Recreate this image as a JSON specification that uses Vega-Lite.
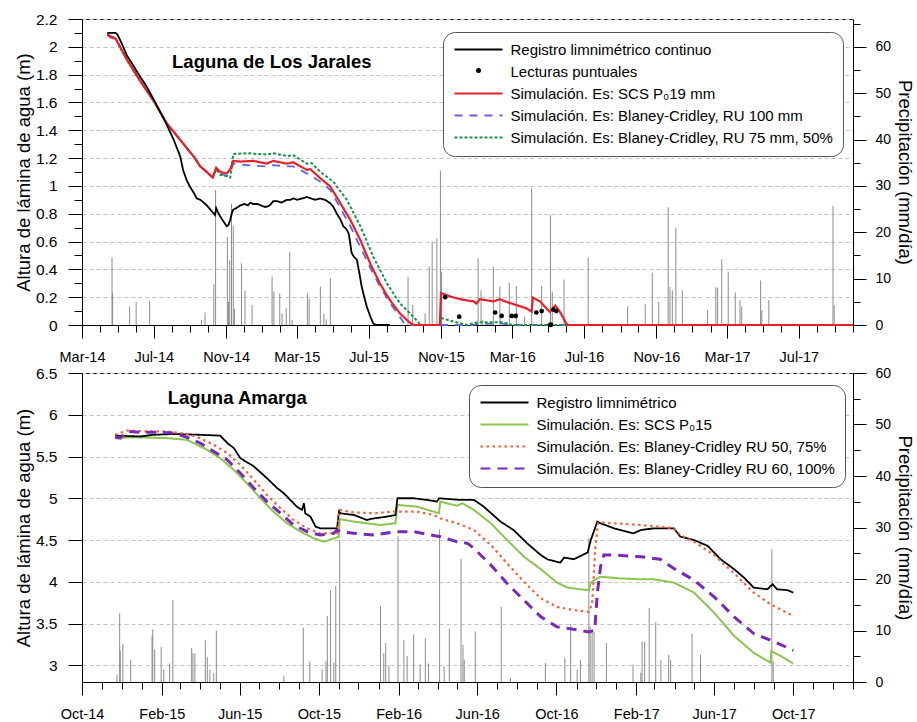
{
"$schema": "https://vega.github.io/schema/vega-lite/v6.json",
"padding": {"left": 13, "top": 11, "right": 0, "bottom": 5},
"config": {
  "font": "Liberation Sans",
  "view": {"stroke": "black", "strokeWidth": 1},
  "axis": {"domainColor": "black", "tickColor": "black", "labelColor": "black", "titleColor": "black", "labelFont": "Liberation Sans", "titleFont": "Liberation Sans", "titleFontWeight": "normal", "grid": false, "tickWidth": 1, "domainWidth": 1},
  "legend": {"labelFont": "Liberation Sans", "labelFontSize": 15, "labelColor": "black", "labelLimit": 600, "symbolType": "M-1,0H7", "symbolSize": 144, "symbolStrokeWidth": 2, "rowPadding": 6, "padding": 10, "strokeColor": "#555555", "fillColor": "white", "cornerRadius": 12, "labelOffset": 42.5}
},
"datasets": {
  "jar_reg": [
    {"d":"2014-04-13","v":2.10,"s":"Registro limnimétrico continuo"},
    {"d":"2014-04-27","v":2.10,"s":"Registro limnimétrico continuo"},
    {"d":"2014-04-30","v":2.09,"s":"Registro limnimétrico continuo"},
    {"d":"2014-05-08","v":2.02,"s":"Registro limnimétrico continuo"},
    {"d":"2014-05-16","v":1.94,"s":"Registro limnimétrico continuo"},
    {"d":"2014-05-25","v":1.88,"s":"Registro limnimétrico continuo"},
    {"d":"2014-06-07","v":1.79,"s":"Registro limnimétrico continuo"},
    {"d":"2014-06-18","v":1.72,"s":"Registro limnimétrico continuo"},
    {"d":"2014-07-01","v":1.62,"s":"Registro limnimétrico continuo"},
    {"d":"2014-07-12","v":1.53,"s":"Registro limnimétrico continuo"},
    {"d":"2014-07-23","v":1.44,"s":"Registro limnimétrico continuo"},
    {"d":"2014-08-04","v":1.33,"s":"Registro limnimétrico continuo"},
    {"d":"2014-08-15","v":1.21,"s":"Registro limnimétrico continuo"},
    {"d":"2014-08-20","v":1.11,"s":"Registro limnimétrico continuo"},
    {"d":"2014-08-26","v":1.04,"s":"Registro limnimétrico continuo"},
    {"d":"2014-09-01","v":0.99,"s":"Registro limnimétrico continuo"},
    {"d":"2014-09-07","v":0.95,"s":"Registro limnimétrico continuo"},
    {"d":"2014-09-12","v":0.91,"s":"Registro limnimétrico continuo"},
    {"d":"2014-09-18","v":0.90,"s":"Registro limnimétrico continuo"},
    {"d":"2014-09-24","v":0.88,"s":"Registro limnimétrico continuo"},
    {"d":"2014-09-29","v":0.86,"s":"Registro limnimétrico continuo"},
    {"d":"2014-10-05","v":0.83,"s":"Registro limnimétrico continuo"},
    {"d":"2014-10-11","v":0.80,"s":"Registro limnimétrico continuo"},
    {"d":"2014-10-13","v":0.79,"s":"Registro limnimétrico continuo"},
    {"d":"2014-10-15","v":0.84,"s":"Registro limnimétrico continuo"},
    {"d":"2014-10-18","v":0.81,"s":"Registro limnimétrico continuo"},
    {"d":"2014-10-22","v":0.78,"s":"Registro limnimétrico continuo"},
    {"d":"2014-10-28","v":0.74,"s":"Registro limnimétrico continuo"},
    {"d":"2014-11-02","v":0.71,"s":"Registro limnimétrico continuo"},
    {"d":"2014-11-05","v":0.72,"s":"Registro limnimétrico continuo"},
    {"d":"2014-11-08","v":0.76,"s":"Registro limnimétrico continuo"},
    {"d":"2014-11-11","v":0.81,"s":"Registro limnimétrico continuo"},
    {"d":"2014-11-13","v":0.83,"s":"Registro limnimétrico continuo"},
    {"d":"2014-11-18","v":0.84,"s":"Registro limnimétrico continuo"},
    {"d":"2014-11-25","v":0.86,"s":"Registro limnimétrico continuo"},
    {"d":"2014-12-02","v":0.87,"s":"Registro limnimétrico continuo"},
    {"d":"2014-12-08","v":0.86,"s":"Registro limnimétrico continuo"},
    {"d":"2014-12-12","v":0.88,"s":"Registro limnimétrico continuo"},
    {"d":"2014-12-17","v":0.87,"s":"Registro limnimétrico continuo"},
    {"d":"2014-12-24","v":0.87,"s":"Registro limnimétrico continuo"},
    {"d":"2014-12-30","v":0.86,"s":"Registro limnimétrico continuo"},
    {"d":"2015-01-05","v":0.85,"s":"Registro limnimétrico continuo"},
    {"d":"2015-01-09","v":0.85,"s":"Registro limnimétrico continuo"},
    {"d":"2015-01-14","v":0.86,"s":"Registro limnimétrico continuo"},
    {"d":"2015-01-20","v":0.89,"s":"Registro limnimétrico continuo"},
    {"d":"2015-01-27","v":0.89,"s":"Registro limnimétrico continuo"},
    {"d":"2015-02-03","v":0.88,"s":"Registro limnimétrico continuo"},
    {"d":"2015-02-12","v":0.90,"s":"Registro limnimétrico continuo"},
    {"d":"2015-02-18","v":0.90,"s":"Registro limnimétrico continuo"},
    {"d":"2015-02-23","v":0.91,"s":"Registro limnimétrico continuo"},
    {"d":"2015-03-02","v":0.90,"s":"Registro limnimétrico continuo"},
    {"d":"2015-03-10","v":0.91,"s":"Registro limnimétrico continuo"},
    {"d":"2015-03-18","v":0.92,"s":"Registro limnimétrico continuo"},
    {"d":"2015-03-25","v":0.91,"s":"Registro limnimétrico continuo"},
    {"d":"2015-04-01","v":0.90,"s":"Registro limnimétrico continuo"},
    {"d":"2015-04-10","v":0.91,"s":"Registro limnimétrico continuo"},
    {"d":"2015-04-18","v":0.90,"s":"Registro limnimétrico continuo"},
    {"d":"2015-04-27","v":0.875,"s":"Registro limnimétrico continuo"},
    {"d":"2015-05-02","v":0.85,"s":"Registro limnimétrico continuo"},
    {"d":"2015-05-08","v":0.80,"s":"Registro limnimétrico continuo"},
    {"d":"2015-05-14","v":0.76,"s":"Registro limnimétrico continuo"},
    {"d":"2015-05-19","v":0.71,"s":"Registro limnimétrico continuo"},
    {"d":"2015-05-24","v":0.69,"s":"Registro limnimétrico continuo"},
    {"d":"2015-05-28","v":0.66,"s":"Registro limnimétrico continuo"},
    {"d":"2015-05-30","v":0.61,"s":"Registro limnimétrico continuo"},
    {"d":"2015-06-02","v":0.52,"s":"Registro limnimétrico continuo"},
    {"d":"2015-06-06","v":0.49,"s":"Registro limnimétrico continuo"},
    {"d":"2015-06-11","v":0.47,"s":"Registro limnimétrico continuo"},
    {"d":"2015-06-15","v":0.38,"s":"Registro limnimétrico continuo"},
    {"d":"2015-06-19","v":0.28,"s":"Registro limnimétrico continuo"},
    {"d":"2015-06-23","v":0.21,"s":"Registro limnimétrico continuo"},
    {"d":"2015-06-28","v":0.13,"s":"Registro limnimétrico continuo"},
    {"d":"2015-07-04","v":0.06,"s":"Registro limnimétrico continuo"},
    {"d":"2015-07-09","v":0.01,"s":"Registro limnimétrico continuo"},
    {"d":"2015-07-14","v":0.0,"s":"Registro limnimétrico continuo"},
    {"d":"2015-08-06","v":0.0,"s":"Registro limnimétrico continuo"}
  ],
  "jar_scs": [
    {"d":"2014-04-13","v":2.09,"s":"Simulación. Es: SCS P₀19 mm"},
    {"d":"2014-04-18","v":2.07,"s":"Simulación. Es: SCS P₀19 mm"},
    {"d":"2014-04-27","v":2.06,"s":"Simulación. Es: SCS P₀19 mm"},
    {"d":"2014-05-16","v":1.91,"s":"Simulación. Es: SCS P₀19 mm"},
    {"d":"2014-06-07","v":1.76,"s":"Simulación. Es: SCS P₀19 mm"},
    {"d":"2014-07-01","v":1.61,"s":"Simulación. Es: SCS P₀19 mm"},
    {"d":"2014-07-23","v":1.45,"s":"Simulación. Es: SCS P₀19 mm"},
    {"d":"2014-08-15","v":1.33,"s":"Simulación. Es: SCS P₀19 mm"},
    {"d":"2014-09-07","v":1.21,"s":"Simulación. Es: SCS P₀19 mm"},
    {"d":"2014-09-18","v":1.14,"s":"Simulación. Es: SCS P₀19 mm"},
    {"d":"2014-09-29","v":1.10,"s":"Simulación. Es: SCS P₀19 mm"},
    {"d":"2014-10-09","v":1.06,"s":"Simulación. Es: SCS P₀19 mm"},
    {"d":"2014-10-15","v":1.13,"s":"Simulación. Es: SCS P₀19 mm"},
    {"d":"2014-10-22","v":1.10,"s":"Simulación. Es: SCS P₀19 mm"},
    {"d":"2014-11-02","v":1.09,"s":"Simulación. Es: SCS P₀19 mm"},
    {"d":"2014-11-08","v":1.12,"s":"Simulación. Es: SCS P₀19 mm"},
    {"d":"2014-11-13","v":1.18,"s":"Simulación. Es: SCS P₀19 mm"},
    {"d":"2014-11-25","v":1.175,"s":"Simulación. Es: SCS P₀19 mm"},
    {"d":"2014-12-17","v":1.18,"s":"Simulación. Es: SCS P₀19 mm"},
    {"d":"2015-01-09","v":1.16,"s":"Simulación. Es: SCS P₀19 mm"},
    {"d":"2015-01-20","v":1.18,"s":"Simulación. Es: SCS P₀19 mm"},
    {"d":"2015-02-12","v":1.16,"s":"Simulación. Es: SCS P₀19 mm"},
    {"d":"2015-02-23","v":1.17,"s":"Simulación. Es: SCS P₀19 mm"},
    {"d":"2015-03-18","v":1.115,"s":"Simulación. Es: SCS P₀19 mm"},
    {"d":"2015-03-24","v":1.12,"s":"Simulación. Es: SCS P₀19 mm"},
    {"d":"2015-04-10","v":1.055,"s":"Simulación. Es: SCS P₀19 mm"},
    {"d":"2015-04-27","v":0.995,"s":"Simulación. Es: SCS P₀19 mm"},
    {"d":"2015-05-14","v":0.875,"s":"Simulación. Es: SCS P₀19 mm"},
    {"d":"2015-05-31","v":0.755,"s":"Simulación. Es: SCS P₀19 mm"},
    {"d":"2015-06-17","v":0.61,"s":"Simulación. Es: SCS P₀19 mm"},
    {"d":"2015-07-04","v":0.44,"s":"Simulación. Es: SCS P₀19 mm"},
    {"d":"2015-07-20","v":0.30,"s":"Simulación. Es: SCS P₀19 mm"},
    {"d":"2015-08-06","v":0.18,"s":"Simulación. Es: SCS P₀19 mm"},
    {"d":"2015-08-23","v":0.084,"s":"Simulación. Es: SCS P₀19 mm"},
    {"d":"2015-09-07","v":0.024,"s":"Simulación. Es: SCS P₀19 mm"},
    {"d":"2015-09-15","v":0,"s":"Simulación. Es: SCS P₀19 mm"},
    {"d":"2015-10-30","v":0,"s":"Simulación. Es: SCS P₀19 mm"},
    {"d":"2015-11-01","v":0.23,"s":"Simulación. Es: SCS P₀19 mm"},
    {"d":"2015-11-20","v":0.20,"s":"Simulación. Es: SCS P₀19 mm"},
    {"d":"2015-12-10","v":0.18,"s":"Simulación. Es: SCS P₀19 mm"},
    {"d":"2015-12-26","v":0.17,"s":"Simulación. Es: SCS P₀19 mm"},
    {"d":"2015-12-31","v":0.155,"s":"Simulación. Es: SCS P₀19 mm"},
    {"d":"2016-01-06","v":0.185,"s":"Simulación. Es: SCS P₀19 mm"},
    {"d":"2016-01-29","v":0.17,"s":"Simulación. Es: SCS P₀19 mm"},
    {"d":"2016-02-09","v":0.185,"s":"Simulación. Es: SCS P₀19 mm"},
    {"d":"2016-02-21","v":0.165,"s":"Simulación. Es: SCS P₀19 mm"},
    {"d":"2016-03-03","v":0.15,"s":"Simulación. Es: SCS P₀19 mm"},
    {"d":"2016-03-25","v":0.12,"s":"Simulación. Es: SCS P₀19 mm"},
    {"d":"2016-04-03","v":0.096,"s":"Simulación. Es: SCS P₀19 mm"},
    {"d":"2016-04-05","v":0.197,"s":"Simulación. Es: SCS P₀19 mm"},
    {"d":"2016-04-17","v":0.17,"s":"Simulación. Es: SCS P₀19 mm"},
    {"d":"2016-04-28","v":0.12,"s":"Simulación. Es: SCS P₀19 mm"},
    {"d":"2016-05-04","v":0.095,"s":"Simulación. Es: SCS P₀19 mm"},
    {"d":"2016-05-13","v":0.14,"s":"Simulación. Es: SCS P₀19 mm"},
    {"d":"2016-05-21","v":0.095,"s":"Simulación. Es: SCS P₀19 mm"},
    {"d":"2016-06-01","v":0.01,"s":"Simulación. Es: SCS P₀19 mm"},
    {"d":"2016-06-04","v":0,"s":"Simulación. Es: SCS P₀19 mm"},
    {"d":"2017-10-01","v":0,"s":"Simulación. Es: SCS P₀19 mm"}
  ],
  "jar_b100": [
    {"d":"2014-04-13","v":2.09,"s":"Simulación. Es: Blaney-Cridley, RU 100 mm"},
    {"d":"2014-04-27","v":2.06,"s":"Simulación. Es: Blaney-Cridley, RU 100 mm"},
    {"d":"2014-05-16","v":1.91,"s":"Simulación. Es: Blaney-Cridley, RU 100 mm"},
    {"d":"2014-06-07","v":1.76,"s":"Simulación. Es: Blaney-Cridley, RU 100 mm"},
    {"d":"2014-07-01","v":1.61,"s":"Simulación. Es: Blaney-Cridley, RU 100 mm"},
    {"d":"2014-07-23","v":1.45,"s":"Simulación. Es: Blaney-Cridley, RU 100 mm"},
    {"d":"2014-08-15","v":1.33,"s":"Simulación. Es: Blaney-Cridley, RU 100 mm"},
    {"d":"2014-09-07","v":1.21,"s":"Simulación. Es: Blaney-Cridley, RU 100 mm"},
    {"d":"2014-09-18","v":1.14,"s":"Simulación. Es: Blaney-Cridley, RU 100 mm"},
    {"d":"2014-09-29","v":1.10,"s":"Simulación. Es: Blaney-Cridley, RU 100 mm"},
    {"d":"2014-10-09","v":1.06,"s":"Simulación. Es: Blaney-Cridley, RU 100 mm"},
    {"d":"2014-10-15","v":1.12,"s":"Simulación. Es: Blaney-Cridley, RU 100 mm"},
    {"d":"2014-10-22","v":1.09,"s":"Simulación. Es: Blaney-Cridley, RU 100 mm"},
    {"d":"2014-11-02","v":1.07,"s":"Simulación. Es: Blaney-Cridley, RU 100 mm"},
    {"d":"2014-11-08","v":1.10,"s":"Simulación. Es: Blaney-Cridley, RU 100 mm"},
    {"d":"2014-11-13","v":1.16,"s":"Simulación. Es: Blaney-Cridley, RU 100 mm"},
    {"d":"2014-11-25","v":1.155,"s":"Simulación. Es: Blaney-Cridley, RU 100 mm"},
    {"d":"2014-12-17","v":1.146,"s":"Simulación. Es: Blaney-Cridley, RU 100 mm"},
    {"d":"2015-01-09","v":1.14,"s":"Simulación. Es: Blaney-Cridley, RU 100 mm"},
    {"d":"2015-01-20","v":1.15,"s":"Simulación. Es: Blaney-Cridley, RU 100 mm"},
    {"d":"2015-02-12","v":1.14,"s":"Simulación. Es: Blaney-Cridley, RU 100 mm"},
    {"d":"2015-02-23","v":1.14,"s":"Simulación. Es: Blaney-Cridley, RU 100 mm"},
    {"d":"2015-03-18","v":1.09,"s":"Simulación. Es: Blaney-Cridley, RU 100 mm"},
    {"d":"2015-04-10","v":1.03,"s":"Simulación. Es: Blaney-Cridley, RU 100 mm"},
    {"d":"2015-04-27","v":0.97,"s":"Simulación. Es: Blaney-Cridley, RU 100 mm"},
    {"d":"2015-05-14","v":0.84,"s":"Simulación. Es: Blaney-Cridley, RU 100 mm"},
    {"d":"2015-05-31","v":0.71,"s":"Simulación. Es: Blaney-Cridley, RU 100 mm"},
    {"d":"2015-06-17","v":0.56,"s":"Simulación. Es: Blaney-Cridley, RU 100 mm"},
    {"d":"2015-07-04","v":0.41,"s":"Simulación. Es: Blaney-Cridley, RU 100 mm"},
    {"d":"2015-07-20","v":0.28,"s":"Simulación. Es: Blaney-Cridley, RU 100 mm"},
    {"d":"2015-08-06","v":0.16,"s":"Simulación. Es: Blaney-Cridley, RU 100 mm"},
    {"d":"2015-08-23","v":0.06,"s":"Simulación. Es: Blaney-Cridley, RU 100 mm"},
    {"d":"2015-09-01","v":0,"s":"Simulación. Es: Blaney-Cridley, RU 100 mm"},
    {"d":"2015-12-25","v":0,"s":"Simulación. Es: Blaney-Cridley, RU 100 mm"},
    {"d":"2016-01-06","v":0.012,"s":"Simulación. Es: Blaney-Cridley, RU 100 mm"},
    {"d":"2016-01-20","v":0.008,"s":"Simulación. Es: Blaney-Cridley, RU 100 mm"},
    {"d":"2016-02-10","v":0.012,"s":"Simulación. Es: Blaney-Cridley, RU 100 mm"},
    {"d":"2016-03-01","v":0,"s":"Simulación. Es: Blaney-Cridley, RU 100 mm"},
    {"d":"2017-10-01","v":0,"s":"Simulación. Es: Blaney-Cridley, RU 100 mm"}
  ],
  "jar_b75": [
    {"d":"2014-04-13","v":2.09,"s":"Simulación. Es: Blaney-Cridley, RU 75 mm, 50%"},
    {"d":"2014-04-27","v":2.06,"s":"Simulación. Es: Blaney-Cridley, RU 75 mm, 50%"},
    {"d":"2014-05-16","v":1.91,"s":"Simulación. Es: Blaney-Cridley, RU 75 mm, 50%"},
    {"d":"2014-06-07","v":1.76,"s":"Simulación. Es: Blaney-Cridley, RU 75 mm, 50%"},
    {"d":"2014-07-01","v":1.61,"s":"Simulación. Es: Blaney-Cridley, RU 75 mm, 50%"},
    {"d":"2014-07-23","v":1.45,"s":"Simulación. Es: Blaney-Cridley, RU 75 mm, 50%"},
    {"d":"2014-08-15","v":1.33,"s":"Simulación. Es: Blaney-Cridley, RU 75 mm, 50%"},
    {"d":"2014-09-07","v":1.21,"s":"Simulación. Es: Blaney-Cridley, RU 75 mm, 50%"},
    {"d":"2014-09-18","v":1.14,"s":"Simulación. Es: Blaney-Cridley, RU 75 mm, 50%"},
    {"d":"2014-09-29","v":1.10,"s":"Simulación. Es: Blaney-Cridley, RU 75 mm, 50%"},
    {"d":"2014-10-09","v":1.06,"s":"Simulación. Es: Blaney-Cridley, RU 75 mm, 50%"},
    {"d":"2014-10-15","v":1.12,"s":"Simulación. Es: Blaney-Cridley, RU 75 mm, 50%"},
    {"d":"2014-10-22","v":1.08,"s":"Simulación. Es: Blaney-Cridley, RU 75 mm, 50%"},
    {"d":"2014-11-02","v":1.07,"s":"Simulación. Es: Blaney-Cridley, RU 75 mm, 50%"},
    {"d":"2014-11-08","v":1.06,"s":"Simulación. Es: Blaney-Cridley, RU 75 mm, 50%"},
    {"d":"2014-11-13","v":1.23,"s":"Simulación. Es: Blaney-Cridley, RU 75 mm, 50%"},
    {"d":"2014-12-06","v":1.235,"s":"Simulación. Es: Blaney-Cridley, RU 75 mm, 50%"},
    {"d":"2015-01-09","v":1.225,"s":"Simulación. Es: Blaney-Cridley, RU 75 mm, 50%"},
    {"d":"2015-01-20","v":1.235,"s":"Simulación. Es: Blaney-Cridley, RU 75 mm, 50%"},
    {"d":"2015-02-12","v":1.215,"s":"Simulación. Es: Blaney-Cridley, RU 75 mm, 50%"},
    {"d":"2015-02-23","v":1.22,"s":"Simulación. Es: Blaney-Cridley, RU 75 mm, 50%"},
    {"d":"2015-03-18","v":1.16,"s":"Simulación. Es: Blaney-Cridley, RU 75 mm, 50%"},
    {"d":"2015-03-26","v":1.165,"s":"Simulación. Es: Blaney-Cridley, RU 75 mm, 50%"},
    {"d":"2015-04-10","v":1.10,"s":"Simulación. Es: Blaney-Cridley, RU 75 mm, 50%"},
    {"d":"2015-05-02","v":1.03,"s":"Simulación. Es: Blaney-Cridley, RU 75 mm, 50%"},
    {"d":"2015-05-25","v":0.90,"s":"Simulación. Es: Blaney-Cridley, RU 75 mm, 50%"},
    {"d":"2015-06-17","v":0.71,"s":"Simulación. Es: Blaney-Cridley, RU 75 mm, 50%"},
    {"d":"2015-07-09","v":0.49,"s":"Simulación. Es: Blaney-Cridley, RU 75 mm, 50%"},
    {"d":"2015-08-01","v":0.30,"s":"Simulación. Es: Blaney-Cridley, RU 75 mm, 50%"},
    {"d":"2015-08-23","v":0.156,"s":"Simulación. Es: Blaney-Cridley, RU 75 mm, 50%"},
    {"d":"2015-09-15","v":0.06,"s":"Simulación. Es: Blaney-Cridley, RU 75 mm, 50%"},
    {"d":"2015-09-26","v":0.007,"s":"Simulación. Es: Blaney-Cridley, RU 75 mm, 50%"},
    {"d":"2015-10-01","v":0,"s":"Simulación. Es: Blaney-Cridley, RU 75 mm, 50%"},
    {"d":"2015-10-30","v":0,"s":"Simulación. Es: Blaney-Cridley, RU 75 mm, 50%"},
    {"d":"2015-11-01","v":0.05,"s":"Simulación. Es: Blaney-Cridley, RU 75 mm, 50%"},
    {"d":"2015-11-22","v":0.025,"s":"Simulación. Es: Blaney-Cridley, RU 75 mm, 50%"},
    {"d":"2015-12-15","v":0,"s":"Simulación. Es: Blaney-Cridley, RU 75 mm, 50%"},
    {"d":"2016-01-03","v":0.02,"s":"Simulación. Es: Blaney-Cridley, RU 75 mm, 50%"},
    {"d":"2016-02-15","v":0.02,"s":"Simulación. Es: Blaney-Cridley, RU 75 mm, 50%"},
    {"d":"2016-03-01","v":0,"s":"Simulación. Es: Blaney-Cridley, RU 75 mm, 50%"},
    {"d":"2017-10-01","v":0,"s":"Simulación. Es: Blaney-Cridley, RU 75 mm, 50%"}
  ],
  "jar_pts": [
    {"d":"2015-11-08","v":0.20,"s":"Lecturas puntuales"},
    {"d":"2015-12-02","v":0.06,"s":"Lecturas puntuales"},
    {"d":"2016-02-01","v":0.09,"s":"Lecturas puntuales"},
    {"d":"2016-02-12","v":0.065,"s":"Lecturas puntuales"},
    {"d":"2016-02-29","v":0.065,"s":"Lecturas puntuales"},
    {"d":"2016-03-07","v":0.065,"s":"Lecturas puntuales"},
    {"d":"2016-04-11","v":0.09,"s":"Lecturas puntuales"},
    {"d":"2016-04-20","v":0.10,"s":"Lecturas puntuales"},
    {"d":"2016-05-04","v":0.0,"s":"Lecturas puntuales"},
    {"d":"2016-05-06","v":0.003,"s":"Lecturas puntuales"},
    {"d":"2016-05-10","v":0.11,"s":"Lecturas puntuales"},
    {"d":"2016-05-15","v":0.10,"s":"Lecturas puntuales"}
  ],
  "jar_rain": [
    {"d":"2014-04-21","p":14.6},{"d":"2014-04-22","p":7.0},{"d":"2014-05-21","p":4.0},{"d":"2014-06-01","p":5.0},
    {"d":"2014-06-24","p":5.2},{"d":"2014-09-20","p":1.1},{"d":"2014-09-26","p":2.7},{"d":"2014-10-11","p":8.8},
    {"d":"2014-10-14","p":29.1},{"d":"2014-11-03","p":19.0},{"d":"2014-11-05","p":5.0},{"d":"2014-11-07","p":13.9},
    {"d":"2014-11-10","p":26.1},{"d":"2014-11-13","p":21.4},{"d":"2014-11-15","p":3.5},{"d":"2014-11-27","p":13.3},
    {"d":"2014-12-03","p":7.4},{"d":"2014-12-15","p":4.3},{"d":"2015-01-18","p":10.4},{"d":"2015-01-21","p":7.2},
    {"d":"2015-01-31","p":6.8},{"d":"2015-02-04","p":2.5},{"d":"2015-02-11","p":3.6},{"d":"2015-02-17","p":15.8},
    {"d":"2015-02-21","p":1.1},{"d":"2015-03-19","p":6.8},{"d":"2015-03-22","p":5.6},{"d":"2015-04-10","p":8.3},
    {"d":"2015-04-16","p":2.5},{"d":"2015-04-20","p":1.2},{"d":"2015-04-27","p":10.1},{"d":"2015-09-06","p":10.4},
    {"d":"2015-09-14","p":4.3},{"d":"2015-10-05","p":2.5},{"d":"2015-10-12","p":12.6},{"d":"2015-10-17","p":18.0},
    {"d":"2015-10-25","p":18.7},{"d":"2015-10-31","p":33.3},{"d":"2015-11-02","p":11.5},{"d":"2016-01-03","p":14.4},
    {"d":"2016-01-08","p":7.5},{"d":"2016-01-11","p":1.1},{"d":"2016-01-29","p":12.6},{"d":"2016-02-09","p":8.3},
    {"d":"2016-02-25","p":9.1},{"d":"2016-03-08","p":8.4},{"d":"2016-03-22","p":1.8},{"d":"2016-04-03","p":29.5},
    {"d":"2016-04-20","p":8.4},{"d":"2016-05-05","p":23.7},{"d":"2016-05-08","p":7.2},{"d":"2016-05-28","p":9.8},
    {"d":"2016-07-08","p":14.6},{"d":"2016-09-13","p":4.0},{"d":"2016-10-13","p":4.5},{"d":"2016-10-25","p":11.3},
    {"d":"2016-11-05","p":5.0},{"d":"2016-11-21","p":25.4},{"d":"2016-11-24","p":8.2},{"d":"2016-11-28","p":7.5},
    {"d":"2016-12-04","p":21.0},{"d":"2016-12-15","p":7.5},{"d":"2017-01-27","p":3.2},{"d":"2017-02-10","p":8.1},
    {"d":"2017-02-13","p":8.1},{"d":"2017-02-20","p":14.2},{"d":"2017-03-03","p":11.5},{"d":"2017-03-15","p":7.0},
    {"d":"2017-03-23","p":5.4},{"d":"2017-03-26","p":4.0},{"d":"2017-04-27","p":9.6},{"d":"2017-04-29","p":3.2},
    {"d":"2017-05-11","p":5.4},{"d":"2017-08-28","p":25.7},{"d":"2017-08-30","p":4.3}
  ],
  "ama_reg": [
    {"d":"2014-11-21","v":5.75,"s":"Registro limnimétrico"},
    {"d":"2014-12-30","v":5.74,"s":"Registro limnimétrico"},
    {"d":"2015-01-19","v":5.76,"s":"Registro limnimétrico"},
    {"d":"2015-02-19","v":5.77,"s":"Registro limnimétrico"},
    {"d":"2015-04-01","v":5.76,"s":"Registro limnimétrico"},
    {"d":"2015-05-02","v":5.75,"s":"Registro limnimétrico"},
    {"d":"2015-05-13","v":5.66,"s":"Registro limnimétrico"},
    {"d":"2015-05-23","v":5.60,"s":"Registro limnimétrico"},
    {"d":"2015-06-02","v":5.48,"s":"Registro limnimétrico"},
    {"d":"2015-06-23","v":5.38,"s":"Registro limnimétrico"},
    {"d":"2015-07-13","v":5.24,"s":"Registro limnimétrico"},
    {"d":"2015-07-29","v":5.12,"s":"Registro limnimétrico"},
    {"d":"2015-08-08","v":5.06,"s":"Registro limnimétrico"},
    {"d":"2015-08-18","v":4.98,"s":"Registro limnimétrico"},
    {"d":"2015-08-28","v":4.90,"s":"Registro limnimétrico"},
    {"d":"2015-09-05","v":4.86,"s":"Registro limnimétrico"},
    {"d":"2015-09-08","v":4.94,"s":"Registro limnimétrico"},
    {"d":"2015-09-10","v":4.82,"s":"Registro limnimétrico"},
    {"d":"2015-09-18","v":4.78,"s":"Registro limnimétrico"},
    {"d":"2015-09-26","v":4.66,"s":"Registro limnimétrico"},
    {"d":"2015-10-03","v":4.64,"s":"Registro limnimétrico"},
    {"d":"2015-10-29","v":4.64,"s":"Registro limnimétrico"},
    {"d":"2015-11-01","v":4.84,"s":"Registro limnimétrico"},
    {"d":"2015-11-03","v":4.82,"s":"Registro limnimétrico"},
    {"d":"2015-11-24","v":4.80,"s":"Registro limnimétrico"},
    {"d":"2015-12-14","v":4.74,"s":"Registro limnimétrico"},
    {"d":"2015-12-25","v":4.76,"s":"Registro limnimétrico"},
    {"d":"2016-01-14","v":4.78,"s":"Registro limnimétrico"},
    {"d":"2016-01-27","v":4.80,"s":"Registro limnimétrico"},
    {"d":"2016-01-30","v":5.00,"s":"Registro limnimétrico"},
    {"d":"2016-02-24","v":5.00,"s":"Registro limnimétrico"},
    {"d":"2016-03-16","v":4.98,"s":"Registro limnimétrico"},
    {"d":"2016-03-31","v":4.96,"s":"Registro limnimétrico"},
    {"d":"2016-04-03","v":5.00,"s":"Registro limnimétrico"},
    {"d":"2016-05-06","v":4.98,"s":"Registro limnimétrico"},
    {"d":"2016-05-27","v":4.98,"s":"Registro limnimétrico"},
    {"d":"2016-06-11","v":4.90,"s":"Registro limnimétrico"},
    {"d":"2016-07-07","v":4.72,"s":"Registro limnimétrico"},
    {"d":"2016-07-27","v":4.62,"s":"Registro limnimétrico"},
    {"d":"2016-08-17","v":4.46,"s":"Registro limnimétrico"},
    {"d":"2016-09-07","v":4.32,"s":"Registro limnimétrico"},
    {"d":"2016-09-17","v":4.27,"s":"Registro limnimétrico"},
    {"d":"2016-10-07","v":4.23,"s":"Registro limnimétrico"},
    {"d":"2016-10-13","v":4.29,"s":"Registro limnimétrico"},
    {"d":"2016-10-28","v":4.27,"s":"Registro limnimétrico"},
    {"d":"2016-11-18","v":4.35,"s":"Registro limnimétrico"},
    {"d":"2016-11-23","v":4.50,"s":"Registro limnimétrico"},
    {"d":"2016-12-03","v":4.72,"s":"Registro limnimétrico"},
    {"d":"2016-12-08","v":4.70,"s":"Registro limnimétrico"},
    {"d":"2016-12-29","v":4.64,"s":"Registro limnimétrico"},
    {"d":"2017-01-28","v":4.58,"s":"Registro limnimétrico"},
    {"d":"2017-02-08","v":4.62,"s":"Registro limnimétrico"},
    {"d":"2017-02-28","v":4.64,"s":"Registro limnimétrico"},
    {"d":"2017-03-31","v":4.64,"s":"Registro limnimétrico"},
    {"d":"2017-04-10","v":4.54,"s":"Registro limnimétrico"},
    {"d":"2017-05-01","v":4.50,"s":"Registro limnimétrico"},
    {"d":"2017-05-22","v":4.43,"s":"Registro limnimétrico"},
    {"d":"2017-06-11","v":4.27,"s":"Registro limnimétrico"},
    {"d":"2017-07-02","v":4.15,"s":"Registro limnimétrico"},
    {"d":"2017-07-17","v":4.05,"s":"Registro limnimétrico"},
    {"d":"2017-08-01","v":3.93,"s":"Registro limnimétrico"},
    {"d":"2017-08-22","v":3.91,"s":"Registro limnimétrico"},
    {"d":"2017-08-30","v":3.97,"s":"Registro limnimétrico"},
    {"d":"2017-09-06","v":3.91,"s":"Registro limnimétrico"},
    {"d":"2017-09-22","v":3.90,"s":"Registro limnimétrico"},
    {"d":"2017-10-01","v":3.87,"s":"Registro limnimétrico"}
  ],
  "ama_scs": [
    {"d":"2014-11-21","v":5.72,"s":"Simulación. Es: SCS P₀15"},
    {"d":"2014-12-20","v":5.73,"s":"Simulación. Es: SCS P₀15"},
    {"d":"2015-02-09","v":5.72,"s":"Simulación. Es: SCS P₀15"},
    {"d":"2015-03-12","v":5.70,"s":"Simulación. Es: SCS P₀15"},
    {"d":"2015-03-22","v":5.66,"s":"Simulación. Es: SCS P₀15"},
    {"d":"2015-04-12","v":5.58,"s":"Simulación. Es: SCS P₀15"},
    {"d":"2015-05-02","v":5.48,"s":"Simulación. Es: SCS P₀15"},
    {"d":"2015-05-23","v":5.34,"s":"Simulación. Es: SCS P₀15"},
    {"d":"2015-06-12","v":5.18,"s":"Simulación. Es: SCS P₀15"},
    {"d":"2015-07-03","v":5.00,"s":"Simulación. Es: SCS P₀15"},
    {"d":"2015-07-23","v":4.84,"s":"Simulación. Es: SCS P₀15"},
    {"d":"2015-08-13","v":4.70,"s":"Simulación. Es: SCS P₀15"},
    {"d":"2015-09-03","v":4.60,"s":"Simulación. Es: SCS P₀15"},
    {"d":"2015-09-23","v":4.52,"s":"Simulación. Es: SCS P₀15"},
    {"d":"2015-10-09","v":4.48,"s":"Simulación. Es: SCS P₀15"},
    {"d":"2015-10-24","v":4.52,"s":"Simulación. Es: SCS P₀15"},
    {"d":"2015-11-01","v":4.54,"s":"Simulación. Es: SCS P₀15"},
    {"d":"2015-11-02","v":4.75,"s":"Simulación. Es: SCS P₀15"},
    {"d":"2015-11-24","v":4.72,"s":"Simulación. Es: SCS P₀15"},
    {"d":"2015-12-14","v":4.70,"s":"Simulación. Es: SCS P₀15"},
    {"d":"2016-01-04","v":4.68,"s":"Simulación. Es: SCS P₀15"},
    {"d":"2016-01-27","v":4.70,"s":"Simulación. Es: SCS P₀15"},
    {"d":"2016-01-30","v":4.92,"s":"Simulación. Es: SCS P₀15"},
    {"d":"2016-02-29","v":4.90,"s":"Simulación. Es: SCS P₀15"},
    {"d":"2016-04-03","v":4.82,"s":"Simulación. Es: SCS P₀15"},
    {"d":"2016-04-05","v":4.96,"s":"Simulación. Es: SCS P₀15"},
    {"d":"2016-05-01","v":4.91,"s":"Simulación. Es: SCS P₀15"},
    {"d":"2016-05-09","v":4.94,"s":"Simulación. Es: SCS P₀15"},
    {"d":"2016-05-27","v":4.86,"s":"Simulación. Es: SCS P₀15"},
    {"d":"2016-06-22","v":4.70,"s":"Simulación. Es: SCS P₀15"},
    {"d":"2016-07-17","v":4.50,"s":"Simulación. Es: SCS P₀15"},
    {"d":"2016-08-12","v":4.30,"s":"Simulación. Es: SCS P₀15"},
    {"d":"2016-09-07","v":4.15,"s":"Simulación. Es: SCS P₀15"},
    {"d":"2016-10-02","v":3.99,"s":"Simulación. Es: SCS P₀15"},
    {"d":"2016-10-18","v":3.93,"s":"Simulación. Es: SCS P₀15"},
    {"d":"2016-11-07","v":3.91,"s":"Simulación. Es: SCS P₀15"},
    {"d":"2016-11-20","v":3.90,"s":"Simulación. Es: SCS P₀15"},
    {"d":"2016-11-23","v":3.99,"s":"Simulación. Es: SCS P₀15"},
    {"d":"2016-12-03","v":4.04,"s":"Simulación. Es: SCS P₀15"},
    {"d":"2016-12-08","v":4.06,"s":"Simulación. Es: SCS P₀15"},
    {"d":"2017-01-08","v":4.04,"s":"Simulación. Es: SCS P₀15"},
    {"d":"2017-02-08","v":4.03,"s":"Simulación. Es: SCS P₀15"},
    {"d":"2017-02-28","v":4.03,"s":"Simulación. Es: SCS P₀15"},
    {"d":"2017-03-31","v":3.99,"s":"Simulación. Es: SCS P₀15"},
    {"d":"2017-05-01","v":3.87,"s":"Simulación. Es: SCS P₀15"},
    {"d":"2017-06-01","v":3.63,"s":"Simulación. Es: SCS P₀15"},
    {"d":"2017-07-02","v":3.35,"s":"Simulación. Es: SCS P₀15"},
    {"d":"2017-08-01","v":3.15,"s":"Simulación. Es: SCS P₀15"},
    {"d":"2017-08-27","v":3.03,"s":"Simulación. Es: SCS P₀15"},
    {"d":"2017-08-28","v":3.17,"s":"Simulación. Es: SCS P₀15"},
    {"d":"2017-09-12","v":3.11,"s":"Simulación. Es: SCS P₀15"},
    {"d":"2017-10-01","v":3.02,"s":"Simulación. Es: SCS P₀15"}
  ],
  "ama_b50": [
    {"d":"2014-11-21","v":5.76,"s":"Simulación. Es: Blaney-Cridley RU 50, 75%"},
    {"d":"2014-12-09","v":5.81,"s":"Simulación. Es: Blaney-Cridley RU 50, 75%"},
    {"d":"2015-01-09","v":5.80,"s":"Simulación. Es: Blaney-Cridley RU 50, 75%"},
    {"d":"2015-02-09","v":5.80,"s":"Simulación. Es: Blaney-Cridley RU 50, 75%"},
    {"d":"2015-03-12","v":5.77,"s":"Simulación. Es: Blaney-Cridley RU 50, 75%"},
    {"d":"2015-04-01","v":5.72,"s":"Simulación. Es: Blaney-Cridley RU 50, 75%"},
    {"d":"2015-04-22","v":5.64,"s":"Simulación. Es: Blaney-Cridley RU 50, 75%"},
    {"d":"2015-05-13","v":5.54,"s":"Simulación. Es: Blaney-Cridley RU 50, 75%"},
    {"d":"2015-06-02","v":5.40,"s":"Simulación. Es: Blaney-Cridley RU 50, 75%"},
    {"d":"2015-06-23","v":5.22,"s":"Simulación. Es: Blaney-Cridley RU 50, 75%"},
    {"d":"2015-07-13","v":5.04,"s":"Simulación. Es: Blaney-Cridley RU 50, 75%"},
    {"d":"2015-08-03","v":4.88,"s":"Simulación. Es: Blaney-Cridley RU 50, 75%"},
    {"d":"2015-08-23","v":4.74,"s":"Simulación. Es: Blaney-Cridley RU 50, 75%"},
    {"d":"2015-09-13","v":4.64,"s":"Simulación. Es: Blaney-Cridley RU 50, 75%"},
    {"d":"2015-10-03","v":4.58,"s":"Simulación. Es: Blaney-Cridley RU 50, 75%"},
    {"d":"2015-10-29","v":4.58,"s":"Simulación. Es: Blaney-Cridley RU 50, 75%"},
    {"d":"2015-11-02","v":4.86,"s":"Simulación. Es: Blaney-Cridley RU 50, 75%"},
    {"d":"2015-11-24","v":4.83,"s":"Simulación. Es: Blaney-Cridley RU 50, 75%"},
    {"d":"2015-12-25","v":4.82,"s":"Simulación. Es: Blaney-Cridley RU 50, 75%"},
    {"d":"2016-01-24","v":4.84,"s":"Simulación. Es: Blaney-Cridley RU 50, 75%"},
    {"d":"2016-02-29","v":4.84,"s":"Simulación. Es: Blaney-Cridley RU 50, 75%"},
    {"d":"2016-03-26","v":4.80,"s":"Simulación. Es: Blaney-Cridley RU 50, 75%"},
    {"d":"2016-04-05","v":4.76,"s":"Simulación. Es: Blaney-Cridley RU 50, 75%"},
    {"d":"2016-05-01","v":4.70,"s":"Simulación. Es: Blaney-Cridley RU 50, 75%"},
    {"d":"2016-05-27","v":4.62,"s":"Simulación. Es: Blaney-Cridley RU 50, 75%"},
    {"d":"2016-06-22","v":4.44,"s":"Simulación. Es: Blaney-Cridley RU 50, 75%"},
    {"d":"2016-07-17","v":4.22,"s":"Simulación. Es: Blaney-Cridley RU 50, 75%"},
    {"d":"2016-08-12","v":4.00,"s":"Simulación. Es: Blaney-Cridley RU 50, 75%"},
    {"d":"2016-09-07","v":3.80,"s":"Simulación. Es: Blaney-Cridley RU 50, 75%"},
    {"d":"2016-10-02","v":3.70,"s":"Simulación. Es: Blaney-Cridley RU 50, 75%"},
    {"d":"2016-10-28","v":3.66,"s":"Simulación. Es: Blaney-Cridley RU 50, 75%"},
    {"d":"2016-11-20","v":3.64,"s":"Simulación. Es: Blaney-Cridley RU 50, 75%"},
    {"d":"2016-11-25","v":3.74,"s":"Simulación. Es: Blaney-Cridley RU 50, 75%"},
    {"d":"2016-11-30","v":4.40,"s":"Simulación. Es: Blaney-Cridley RU 50, 75%"},
    {"d":"2016-12-04","v":4.70,"s":"Simulación. Es: Blaney-Cridley RU 50, 75%"},
    {"d":"2016-12-08","v":4.71,"s":"Simulación. Es: Blaney-Cridley RU 50, 75%"},
    {"d":"2016-12-29","v":4.70,"s":"Simulación. Es: Blaney-Cridley RU 50, 75%"},
    {"d":"2017-02-08","v":4.68,"s":"Simulación. Es: Blaney-Cridley RU 50, 75%"},
    {"d":"2017-03-10","v":4.66,"s":"Simulación. Es: Blaney-Cridley RU 50, 75%"},
    {"d":"2017-03-31","v":4.64,"s":"Simulación. Es: Blaney-Cridley RU 50, 75%"},
    {"d":"2017-04-10","v":4.56,"s":"Simulación. Es: Blaney-Cridley RU 50, 75%"},
    {"d":"2017-05-01","v":4.48,"s":"Simulación. Es: Blaney-Cridley RU 50, 75%"},
    {"d":"2017-06-01","v":4.32,"s":"Simulación. Es: Blaney-Cridley RU 50, 75%"},
    {"d":"2017-07-02","v":4.10,"s":"Simulación. Es: Blaney-Cridley RU 50, 75%"},
    {"d":"2017-08-01","v":3.87,"s":"Simulación. Es: Blaney-Cridley RU 50, 75%"},
    {"d":"2017-08-27","v":3.73,"s":"Simulación. Es: Blaney-Cridley RU 50, 75%"},
    {"d":"2017-10-01","v":3.59,"s":"Simulación. Es: Blaney-Cridley RU 50, 75%"}
  ],
  "ama_b60": [
    {"d":"2014-11-21","v":5.73,"s":"Simulación. Es: Blaney-Cridley RU 60, 100%"},
    {"d":"2014-11-29","v":5.72,"s":"Simulación. Es: Blaney-Cridley RU 60, 100%"},
    {"d":"2014-12-09","v":5.80,"s":"Simulación. Es: Blaney-Cridley RU 60, 100%"},
    {"d":"2014-12-30","v":5.79,"s":"Simulación. Es: Blaney-Cridley RU 60, 100%"},
    {"d":"2015-01-30","v":5.79,"s":"Simulación. Es: Blaney-Cridley RU 60, 100%"},
    {"d":"2015-02-19","v":5.78,"s":"Simulación. Es: Blaney-Cridley RU 60, 100%"},
    {"d":"2015-03-12","v":5.73,"s":"Simulación. Es: Blaney-Cridley RU 60, 100%"},
    {"d":"2015-04-01","v":5.66,"s":"Simulación. Es: Blaney-Cridley RU 60, 100%"},
    {"d":"2015-04-22","v":5.56,"s":"Simulación. Es: Blaney-Cridley RU 60, 100%"},
    {"d":"2015-05-13","v":5.46,"s":"Simulación. Es: Blaney-Cridley RU 60, 100%"},
    {"d":"2015-06-02","v":5.30,"s":"Simulación. Es: Blaney-Cridley RU 60, 100%"},
    {"d":"2015-06-23","v":5.12,"s":"Simulación. Es: Blaney-Cridley RU 60, 100%"},
    {"d":"2015-07-13","v":4.96,"s":"Simulación. Es: Blaney-Cridley RU 60, 100%"},
    {"d":"2015-08-03","v":4.82,"s":"Simulación. Es: Blaney-Cridley RU 60, 100%"},
    {"d":"2015-08-23","v":4.68,"s":"Simulación. Es: Blaney-Cridley RU 60, 100%"},
    {"d":"2015-09-13","v":4.60,"s":"Simulación. Es: Blaney-Cridley RU 60, 100%"},
    {"d":"2015-10-03","v":4.56,"s":"Simulación. Es: Blaney-Cridley RU 60, 100%"},
    {"d":"2015-10-24","v":4.58,"s":"Simulación. Es: Blaney-Cridley RU 60, 100%"},
    {"d":"2015-10-29","v":4.62,"s":"Simulación. Es: Blaney-Cridley RU 60, 100%"},
    {"d":"2015-11-03","v":4.60,"s":"Simulación. Es: Blaney-Cridley RU 60, 100%"},
    {"d":"2015-11-24","v":4.58,"s":"Simulación. Es: Blaney-Cridley RU 60, 100%"},
    {"d":"2015-12-25","v":4.56,"s":"Simulación. Es: Blaney-Cridley RU 60, 100%"},
    {"d":"2016-01-27","v":4.60,"s":"Simulación. Es: Blaney-Cridley RU 60, 100%"},
    {"d":"2016-02-24","v":4.60,"s":"Simulación. Es: Blaney-Cridley RU 60, 100%"},
    {"d":"2016-04-05","v":4.54,"s":"Simulación. Es: Blaney-Cridley RU 60, 100%"},
    {"d":"2016-05-01","v":4.48,"s":"Simulación. Es: Blaney-Cridley RU 60, 100%"},
    {"d":"2016-05-17","v":4.46,"s":"Simulación. Es: Blaney-Cridley RU 60, 100%"},
    {"d":"2016-05-27","v":4.40,"s":"Simulación. Es: Blaney-Cridley RU 60, 100%"},
    {"d":"2016-06-22","v":4.20,"s":"Simulación. Es: Blaney-Cridley RU 60, 100%"},
    {"d":"2016-07-17","v":3.98,"s":"Simulación. Es: Blaney-Cridley RU 60, 100%"},
    {"d":"2016-08-12","v":3.78,"s":"Simulación. Es: Blaney-Cridley RU 60, 100%"},
    {"d":"2016-09-07","v":3.58,"s":"Simulación. Es: Blaney-Cridley RU 60, 100%"},
    {"d":"2016-10-02","v":3.46,"s":"Simulación. Es: Blaney-Cridley RU 60, 100%"},
    {"d":"2016-10-28","v":3.43,"s":"Simulación. Es: Blaney-Cridley RU 60, 100%"},
    {"d":"2016-11-20","v":3.40,"s":"Simulación. Es: Blaney-Cridley RU 60, 100%"},
    {"d":"2016-11-29","v":3.42,"s":"Simulación. Es: Blaney-Cridley RU 60, 100%"},
    {"d":"2016-12-03","v":3.86,"s":"Simulación. Es: Blaney-Cridley RU 60, 100%"},
    {"d":"2016-12-08","v":4.18,"s":"Simulación. Es: Blaney-Cridley RU 60, 100%"},
    {"d":"2016-12-13","v":4.32,"s":"Simulación. Es: Blaney-Cridley RU 60, 100%"},
    {"d":"2016-12-29","v":4.32,"s":"Simulación. Es: Blaney-Cridley RU 60, 100%"},
    {"d":"2017-02-08","v":4.30,"s":"Simulación. Es: Blaney-Cridley RU 60, 100%"},
    {"d":"2017-03-10","v":4.27,"s":"Simulación. Es: Blaney-Cridley RU 60, 100%"},
    {"d":"2017-03-31","v":4.16,"s":"Simulación. Es: Blaney-Cridley RU 60, 100%"},
    {"d":"2017-05-01","v":4.02,"s":"Simulación. Es: Blaney-Cridley RU 60, 100%"},
    {"d":"2017-06-01","v":3.82,"s":"Simulación. Es: Blaney-Cridley RU 60, 100%"},
    {"d":"2017-07-02","v":3.58,"s":"Simulación. Es: Blaney-Cridley RU 60, 100%"},
    {"d":"2017-08-01","v":3.38,"s":"Simulación. Es: Blaney-Cridley RU 60, 100%"},
    {"d":"2017-08-27","v":3.30,"s":"Simulación. Es: Blaney-Cridley RU 60, 100%"},
    {"d":"2017-10-01","v":3.18,"s":"Simulación. Es: Blaney-Cridley RU 60, 100%"}
  ],
  "ama_rain": [
    {"d":"2014-11-24","p":1.4},{"d":"2014-11-28","p":13.3},{"d":"2014-11-29","p":6.0},{"d":"2014-12-03","p":7.4},
    {"d":"2014-12-15","p":4.3},{"d":"2015-01-17","p":9.0},{"d":"2015-01-18","p":10.2},{"d":"2015-01-21","p":6.3},
    {"d":"2015-01-31","p":6.8},{"d":"2015-02-04","p":2.4},{"d":"2015-02-13","p":3.6},{"d":"2015-02-18","p":15.9},
    {"d":"2015-03-19","p":6.6},{"d":"2015-03-21","p":5.6},{"d":"2015-03-24","p":5.5},{"d":"2015-04-09","p":8.1},
    {"d":"2015-04-12","p":4.8},{"d":"2015-04-16","p":2.4},{"d":"2015-04-22","p":1.7},{"d":"2015-04-26","p":10.0},
    {"d":"2015-08-08","p":1.1},{"d":"2015-09-07","p":10.5},{"d":"2015-09-17","p":4.0},{"d":"2015-10-06","p":2.5},
    {"d":"2015-10-12","p":4.0},{"d":"2015-10-14","p":12.8},{"d":"2015-10-19","p":17.9},{"d":"2015-10-24","p":3.8},
    {"d":"2015-10-27","p":18.7},{"d":"2015-11-02","p":27.6},{"d":"2016-01-04","p":14.7},{"d":"2016-01-09","p":5.6},
    {"d":"2016-01-12","p":7.6},{"d":"2016-01-17","p":3.2},{"d":"2016-01-31","p":28.3},{"d":"2016-02-09","p":8.2},
    {"d":"2016-02-14","p":5.0},{"d":"2016-02-24","p":9.2},{"d":"2016-03-05","p":3.4},{"d":"2016-03-13","p":8.5},
    {"d":"2016-03-18","p":3.6},{"d":"2016-04-04","p":29.6},{"d":"2016-04-11","p":3.0},{"d":"2016-04-19","p":10.4},
    {"d":"2016-05-07","p":23.9},{"d":"2016-05-10","p":7.2},{"d":"2016-05-12","p":4.3},{"d":"2016-05-29","p":9.8},
    {"d":"2016-07-08","p":14.6},{"d":"2016-07-22","p":0.8},{"d":"2016-09-14","p":3.7},{"d":"2016-10-14","p":4.7},
    {"d":"2016-10-23","p":11.3},{"d":"2016-11-02","p":2.4},{"d":"2016-11-07","p":4.3},{"d":"2016-11-20","p":28.0},
    {"d":"2016-11-22","p":10.8},{"d":"2016-11-25","p":9.8},{"d":"2016-11-28","p":9.7},{"d":"2016-12-17","p":7.6},
    {"d":"2017-01-27","p":3.4},{"d":"2017-02-08","p":1.8},{"d":"2017-02-10","p":7.9},{"d":"2017-02-14","p":7.9},
    {"d":"2017-02-21","p":14.4},{"d":"2017-03-03","p":11.6},{"d":"2017-03-11","p":4.3},{"d":"2017-03-23","p":5.3},
    {"d":"2017-03-26","p":4.3},{"d":"2017-04-28","p":9.4},{"d":"2017-05-11","p":5.3},{"d":"2017-08-29","p":25.8},
    {"d":"2017-08-31","p":4.0}
  ]
},
"vconcat": [
  {
    "width": 771, "height": 306,
    "layer": [
      {
        "layer": [
          {
            "data": {"name": "jar_rain"},
            "mark": {"type": "rule", "color": "#8c8c8c", "strokeWidth": 1},
            "encoding": {
              "x": {"field": "d", "type": "temporal", "title": null,
                "scale": {"type": "utc", "domain": [{"year": 2014, "month": 3, "date": 1, "utc": true}, {"year": 2017, "month": 10, "date": 1, "utc": true}]},
                "axis": {"tickCount": {"interval": "month", "step": 1}, "labelExpr": "utcmonth(datum.value) % 4 == 2 ? utcFormat(datum.value, '%b-%y') : ''", "tickSize": {"condition": {"test": "utcmonth(datum.value) % 4 == 2", "value": 13}, "value": 7}, "labelFlush": false, "labelOverlap": false, "labelPadding": 12, "labelFontSize": 14.5}},
              "y": {"field": "p", "type": "quantitative", "title": "Precipitación (mm/día)",
                "scale": {"domain": [0, 66], "nice": false, "zero": false},
                "axis": {"orient": "right", "values": [0,10,20,30,40,50,60], "tickSize": 13, "labelOverlap": false, "labelFontSize": 14, "labelPadding": 9, "titleFontSize": 18.5, "titlePadding": 4}},
              "y2": {"datum": 0}
            }
          },
          {
            "data": {"values": [{}]},
            "mark": {"type": "text"},
            "encoding": {
              "y": {"datum": 0, "type": "quantitative", "axis": {"orient": "right", "values": [5,15,25,35,45,55,65], "tickSize": 7, "labels": false, "domain": false, "grid": false, "title": null}},
              "text": {"value": ""}
            }
          }
        ],
        "resolve": {"axis": {"y": "independent"}}
      },
      {
        "layer": [
          {
            "data": {"name": "jar_b100"},
            "mark": {"type": "line", "strokeWidth": 1.8},
            "encoding": {
              "x": {"field": "d", "type": "temporal", "title": null},
              "y": {"field": "v", "type": "quantitative", "title": "Altura de lámina de agua (m)",
                "scale": {"domain": [0, 2.2], "nice": false, "zero": false},
                "axis": {"orient": "left", "values": [0,0.2,0.4,0.6,0.8,1,1.2,1.4,1.6,1.8,2,2.2], "labelExpr": "format(datum.value, '.1~f')", "tickSize": 14, "grid": true, "gridDash": [4, 3], "gridColor": "#c4c4c4", "labelOverlap": false, "labelFontSize": 15.5, "labelPadding": 11, "titleFontSize": 18.5, "titlePadding": 2}},
              "color": {"field": "s", "type": "nominal",
                "scale": {"domain": ["Registro limnimétrico continuo", "Lecturas puntuales", "Simulación. Es: SCS P₀19 mm", "Simulación. Es: Blaney-Cridley, RU 100 mm", "Simulación. Es: Blaney-Cridley, RU 75 mm, 50%"], "range": ["#000000", "transparent", "#e8202a", "#6464d8", "#179447"]},
                "legend": {"title": null, "orient": "none", "legendX": 361, "legendY": 13}},
              "strokeDash": {"field": "s", "type": "nominal",
                "scale": {"domain": ["Registro limnimétrico continuo", "Lecturas puntuales", "Simulación. Es: SCS P₀19 mm", "Simulación. Es: Blaney-Cridley, RU 100 mm", "Simulación. Es: Blaney-Cridley, RU 75 mm, 50%"], "range": [[1, 0], [1, 0], [1, 0], [8, 7], [3, 2]]},
                "legend": {"title": null, "orient": "none", "legendX": 361, "legendY": 13}}
            }
          },
          {
            "data": {"name": "jar_b75"},
            "mark": {"type": "line", "strokeWidth": 2},
            "encoding": {
              "x": {"field": "d", "type": "temporal", "title": null},
              "y": {"field": "v", "type": "quantitative", "axis": null},
              "color": {"field": "s", "type": "nominal"},
              "strokeDash": {"field": "s", "type": "nominal"}
            }
          },
          {
            "data": {"name": "jar_scs"},
            "mark": {"type": "line", "strokeWidth": 2.2},
            "encoding": {
              "x": {"field": "d", "type": "temporal", "title": null},
              "y": {"field": "v", "type": "quantitative", "axis": null},
              "color": {"field": "s", "type": "nominal"},
              "strokeDash": {"field": "s", "type": "nominal"}
            }
          },
          {
            "data": {"name": "jar_reg"},
            "mark": {"type": "line", "strokeWidth": 1.8},
            "encoding": {
              "x": {"field": "d", "type": "temporal", "title": null},
              "y": {"field": "v", "type": "quantitative", "axis": null},
              "color": {"field": "s", "type": "nominal"},
              "strokeDash": {"field": "s", "type": "nominal"}
            }
          },
          {
            "data": {"name": "jar_pts"},
            "mark": {"type": "point", "filled": true, "size": 22, "opacity": 1, "strokeWidth": 0},
            "encoding": {
              "x": {"field": "d", "type": "temporal", "title": null},
              "y": {"field": "v", "type": "quantitative", "axis": null},
              "fill": {"field": "s", "type": "nominal", "scale": {"domain": ["Lecturas puntuales"], "range": ["#000000"]},
                "legend": {"title": null, "orient": "none", "legendX": 389, "legendY": 44, "symbolType": "circle", "symbolSize": 25, "symbolStrokeWidth": 0, "padding": 0, "fillColor": "transparent", "strokeColor": "transparent", "labelExpr": "''", "zindex": 2}}
            }
          },
          {
            "data": {"values": [{}]},
            "mark": {"type": "text", "font": "Liberation Sans", "fontWeight": "bold", "fontSize": 18.5, "align": "left", "baseline": "middle", "color": "black"},
            "encoding": {
              "x": {"datum": {"year": 2014, "month": 8, "date": 1, "utc": true}, "type": "temporal"},
              "y": {"datum": 1.89, "type": "quantitative", "axis": {"orient": "left", "values": [0.1,0.3,0.5,0.7,0.9,1.1,1.3,1.5,1.7,1.9,2.1], "tickSize": 8, "labels": false, "domain": false, "grid": false, "title": null}},
              "text": {"value": "Laguna de Los Jarales"}
            }
          }
        ],
        "resolve": {"axis": {"y": "independent"}}
      }
    ],
    "resolve": {"scale": {"y": "independent"}}
  },
  {
    "width": 771, "height": 309,
    "layer": [
      {
        "layer": [
          {
            "data": {"name": "ama_rain"},
            "mark": {"type": "rule", "color": "#8c8c8c", "strokeWidth": 1},
            "encoding": {
              "x": {"field": "d", "type": "temporal", "title": null,
                "scale": {"type": "utc", "domain": [{"year": 2014, "month": 10, "date": 1, "utc": true}, {"year": 2018, "month": 1, "date": 1, "utc": true}]},
                "axis": {"tickCount": {"interval": "month", "step": 1}, "labelExpr": "utcmonth(datum.value) % 4 == 1 ? utcFormat(datum.value, '%b-%y') : ''", "tickSize": {"condition": {"test": "utcmonth(datum.value) % 4 == 1", "value": 13}, "value": 7}, "labelFlush": false, "labelOverlap": false, "labelPadding": 12, "labelFontSize": 14.5}},
              "y": {"field": "p", "type": "quantitative", "title": "Precipitación (mm/día)",
                "scale": {"domain": [0, 60], "nice": false, "zero": false},
                "axis": {"orient": "right", "values": [0,10,20,30,40,50,60], "tickSize": 13, "labelOverlap": false, "labelFontSize": 14, "labelPadding": 9, "titleFontSize": 18.5, "titlePadding": 4}},
              "y2": {"datum": 0}
            }
          },
          {
            "data": {"values": [{}]},
            "mark": {"type": "text"},
            "encoding": {
              "y": {"datum": 0, "type": "quantitative", "axis": {"orient": "right", "values": [5,15,25,35,45,55], "tickSize": 7, "labels": false, "domain": false, "grid": false, "title": null}},
              "text": {"value": ""}
            }
          }
        ],
        "resolve": {"axis": {"y": "independent"}}
      },
      {
        "layer": [
          {
            "data": {"name": "ama_scs"},
            "mark": {"type": "line", "strokeWidth": 2},
            "encoding": {
              "x": {"field": "d", "type": "temporal", "title": null},
              "y": {"field": "v", "type": "quantitative", "title": "Altura de lámina de agua (m)",
                "scale": {"domain": [2.8, 6.5], "nice": false, "zero": false},
                "axis": {"orient": "left", "values": [3,3.25,3.5,3.75,4,4.25,4.5,4.75,5,5.25,5.5,5.75,6,6.25,6.5], "labelExpr": "round(datum.value*4) % 2 == 0 ? format(datum.value, '.1~f') : ''", "tickSize": {"condition": {"test": "round(datum.value*4) % 2 == 0", "value": 14}, "value": 8}, "grid": true, "gridDash": [4, 3], "gridColor": "#c4c4c4", "gridOpacity": {"condition": {"test": "round(datum.value*4) % 2 == 0", "value": 1}, "value": 0}, "labelOverlap": false, "labelFontSize": 15.5, "labelPadding": 11, "titleFontSize": 18.5, "titlePadding": 2}},
              "color": {"field": "s", "type": "nominal",
                "scale": {"domain": ["Registro limnimétrico", "Simulación. Es: SCS P₀15", "Simulación. Es: Blaney-Cridley RU 50, 75%", "Simulación. Es: Blaney-Cridley RU 60, 100%"], "range": ["#000000", "#8dc450", "#f2603c", "#7a28b8"]},
                "legend": {"title": null, "orient": "none", "legendX": 387, "legendY": 12}},
              "strokeDash": {"field": "s", "type": "nominal",
                "scale": {"domain": ["Registro limnimétrico", "Simulación. Es: SCS P₀15", "Simulación. Es: Blaney-Cridley RU 50, 75%", "Simulación. Es: Blaney-Cridley RU 60, 100%"], "range": [[1, 0], [1, 0], [2.5, 3.5], [10, 7]]},
                "legend": {"title": null, "orient": "none", "legendX": 387, "legendY": 12}}
            }
          },
          {
            "data": {"name": "ama_reg"},
            "mark": {"type": "line", "strokeWidth": 1.8},
            "encoding": {
              "x": {"field": "d", "type": "temporal", "title": null},
              "y": {"field": "v", "type": "quantitative", "title": "Altura de lámina de agua (m)"},
              "color": {"field": "s", "type": "nominal"},
              "strokeDash": {"field": "s", "type": "nominal"}
            }
          },
          {
            "data": {"name": "ama_b50"},
            "mark": {"type": "line", "strokeWidth": 2.2},
            "encoding": {
              "x": {"field": "d", "type": "temporal", "title": null},
              "y": {"field": "v", "type": "quantitative", "title": "Altura de lámina de agua (m)"},
              "color": {"field": "s", "type": "nominal"},
              "strokeDash": {"field": "s", "type": "nominal"}
            }
          },
          {
            "data": {"name": "ama_b60"},
            "mark": {"type": "line", "strokeWidth": 3},
            "encoding": {
              "x": {"field": "d", "type": "temporal", "title": null},
              "y": {"field": "v", "type": "quantitative", "title": "Altura de lámina de agua (m)"},
              "color": {"field": "s", "type": "nominal"},
              "strokeDash": {"field": "s", "type": "nominal"}
            }
          },
          {
            "data": {"values": [{}]},
            "mark": {"type": "text", "font": "Liberation Sans", "fontWeight": "bold", "fontSize": 18.5, "align": "left", "baseline": "middle", "color": "black"},
            "encoding": {
              "x": {"datum": {"year": 2015, "month": 2, "date": 10, "utc": true}, "type": "temporal"},
              "y": {"datum": 6.2, "type": "quantitative", "title": "Altura de lámina de agua (m)"},
              "text": {"value": "Laguna Amarga"}
            }
          }
        ]
      }
    ],
    "resolve": {"scale": {"y": "independent"}}
  }
],
"spacing": 48,
"bounds": "flush",
"resolve": {"scale": {"color": "independent", "strokeDash": "independent", "fill": "independent", "x": "independent", "y": "independent"}}
}
